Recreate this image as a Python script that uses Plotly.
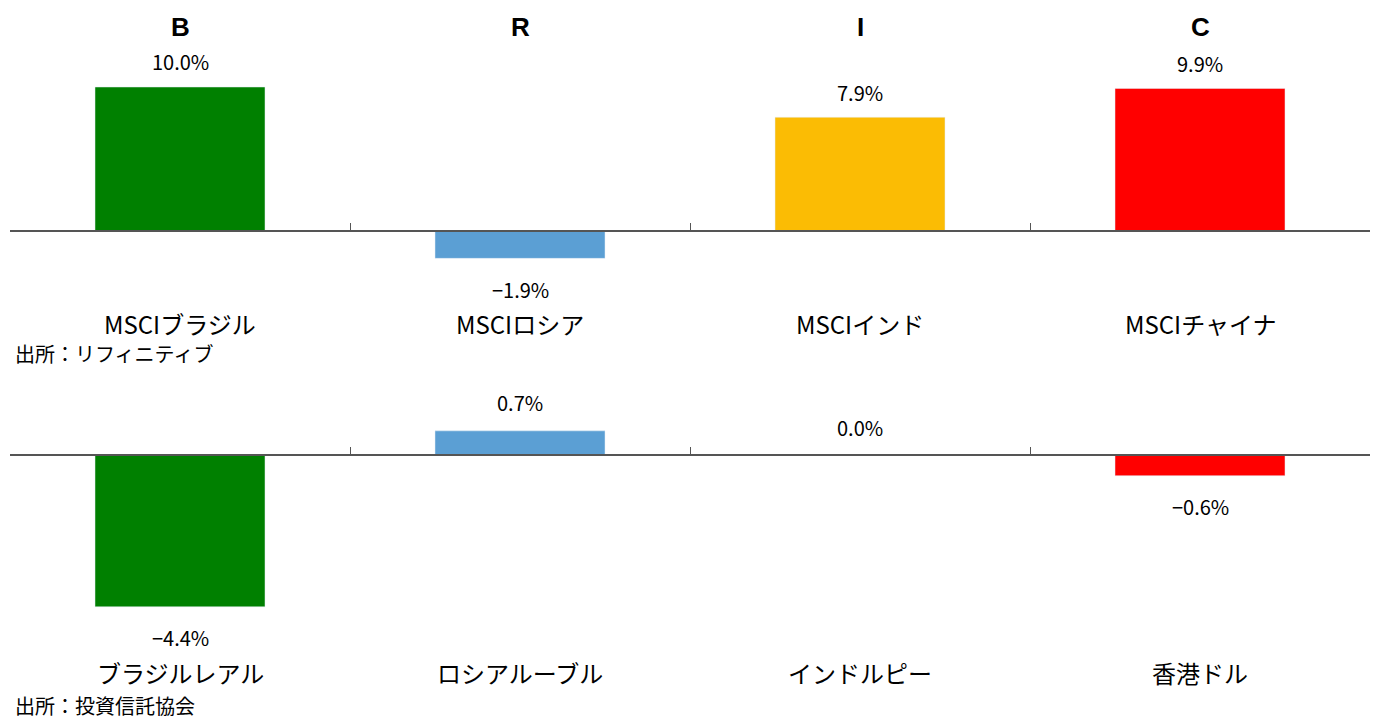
import plotly.graph_objects as go

# ---- data ----
titles = ["B", "R", "I", "C"]
equity_labels = ["MSCIブラジル", "MSCIロシア", "MSCIインド", "MSCIチャイナ"]
equity_values = [10.0, -1.9, 7.9, 9.9]
currency_labels = ["ブラジルレアル", "ロシアルーブル", "インドルピー", "香港ドル"]
currency_values = [-4.4, 0.7, 0.0, -0.6]
colors = ["#008000", "#5B9FD4", "#FBBC04", "#FF0000"]
source_top = "出所：リフィニティブ"
source_bottom = "出所：投資信託協会"

W, H = 1377, 722
JP = "Noto Sans CJK JP"
AXIS_COLOR = "#555555"

xpos = list(range(len(titles)))

# layout geometry (pixels from top)
top_dom_px = (60, 300)
top_range = [-(300 - 231) / 14.4, (231 - 60) / 14.4]
bot_dom_px = (380, 630)
bot_range = [-(630 - 455) / 34.5, (455 - 380) / 34.5]


def dom(px):
    return [1 - px[1] / H, 1 - px[0] / H]


def zero_pos(d, r):
    return d[0] + (0 - r[0]) / (r[1] - r[0]) * (d[1] - d[0])


top_dom = dom(top_dom_px)
bot_dom = dom(bot_dom_px)

fig = go.Figure()
fig.add_trace(go.Bar(x=xpos, y=equity_values, marker_color=colors, width=0.5,
                     xaxis="x", yaxis="y", hoverinfo="skip"))
fig.add_trace(go.Bar(x=xpos, y=currency_values, marker_color=colors, width=0.5,
                     xaxis="x2", yaxis="y2", hoverinfo="skip"))

xdom = [10 / W, 1370 / W]
tickv = [i - 0.5 for i in range(len(titles) + 1)]
xcommon = dict(domain=xdom, range=[-0.5, len(titles) - 0.5], showgrid=False,
               zeroline=False, showline=True, linecolor=AXIS_COLOR, linewidth=1.5,
               ticks="inside", tickvals=tickv, ticklen=7, tickcolor=AXIS_COLOR,
               tickwidth=1, showticklabels=False, fixedrange=True)

fig.update_layout(
    width=W, height=H,
    margin=dict(l=0, r=0, t=0, b=0),
    plot_bgcolor="white", paper_bgcolor="white",
    showlegend=False,
    xaxis=dict(**xcommon, anchor="free", position=zero_pos(top_dom, top_range)),
    yaxis=dict(domain=top_dom, range=top_range, visible=False, anchor="x"),
    xaxis2=dict(**xcommon, anchor="free", position=zero_pos(bot_dom, bot_range)),
    yaxis2=dict(domain=bot_dom, range=bot_range, visible=False, anchor="x2"),
    font=dict(family=JP, color="black"),
)


def fmt(v):
    s = f"{abs(v):.1f}%"
    return ("\u2212" + s) if v < 0 else s


ann = []
for i, t in enumerate(titles):
    ann.append(dict(x=i, y=1 - 27 / H, xref="x", yref="paper", text=f"<b>{t}</b>",
                    showarrow=False, yanchor="middle",
                    font=dict(family="Liberation Sans", size=26)))
for i, (lab, v) in enumerate(zip(equity_labels, equity_values)):
    ann.append(dict(x=i, y=v, xref="x", yref="y", text=fmt(v), showarrow=False,
                    yanchor="middle", yshift=25 if v >= 0 else -31, font=dict(size=20)))
    ann.append(dict(x=i, y=1 - 323 / H, xref="x", yref="paper", text=lab,
                    showarrow=False, yanchor="middle", font=dict(size=24)))
for i, (lab, v) in enumerate(zip(currency_labels, currency_values)):
    ann.append(dict(x=i, y=v, xref="x2", yref="y2", text=fmt(v), showarrow=False,
                    yanchor="middle", yshift=28 if v >= 0 else -31, font=dict(size=20)))
    ann.append(dict(x=i, y=1 - 672 / H, xref="x2", yref="paper", text=lab,
                    showarrow=False, yanchor="middle", font=dict(size=24)))
ann.append(dict(x=13 / W, y=1 - 353 / H, xref="paper", yref="paper", text=source_top,
                showarrow=False, xanchor="left", yanchor="middle", font=dict(size=20)))
ann.append(dict(x=13 / W, y=0, xref="paper", yref="paper", text=source_bottom,
                showarrow=False, xanchor="left", yanchor="bottom", font=dict(size=20)))
fig.update_layout(annotations=ann)

fig.write_html("out.html", config={"displayModeBar": False},
               post_script="document.body.style.margin='0';document.body.style.overflow='hidden';")
